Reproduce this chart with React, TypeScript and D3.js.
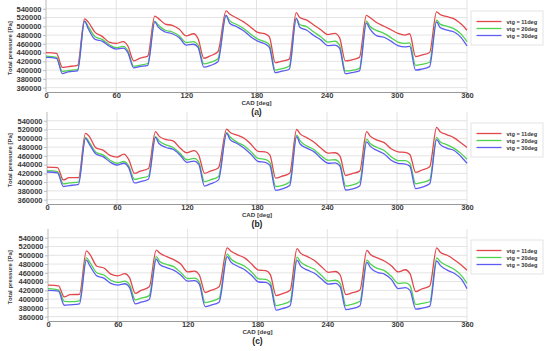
import React, { useEffect, useRef } from 'react';
import * as d3 from 'd3';

// crank angle sample points (same for every curve)
const cad = [0, 9, 14, 19, 27, 33, 36, 42, 48, 54, 60, 66, 70, 75, 80, 87, 93, 96, 102, 108, 114, 120, 126, 130, 135, 140, 147, 154, 157, 163, 169, 175, 181, 187, 191, 196, 201, 208, 214, 217, 223, 229, 235, 241, 247, 251, 256, 261, 268, 274, 277, 283, 289, 295, 301, 307, 311, 316, 321, 328, 334, 337, 343, 349, 355, 360];

// panel (a)
const redA = [440000, 438000, 406000, 408000, 411000, 517000, 510000, 486000, 477000, 464000, 461000, 465000, 455000, 421000, 427000, 432000, 523000, 518000, 505000, 502000, 493000, 478000, 483000, 472000, 427000, 432000, 442000, 535000, 528000, 519000, 510000, 498000, 486000, 483000, 476000, 417000, 420000, 425000, 531000, 520000, 514000, 503000, 492000, 481000, 484000, 474000, 421000, 423000, 429000, 525000, 520000, 508000, 500000, 492000, 484000, 480000, 483000, 431000, 434000, 440000, 533000, 527000, 522000, 517000, 505000, 491000];
const greenA = [432000, 429000, 397000, 399000, 401000, 512000, 500000, 476000, 470000, 458000, 451000, 454000, 444000, 409000, 411000, 415000, 512000, 503000, 491000, 487000, 478000, 463000, 465000, 457000, 414000, 417000, 426000, 525000, 513000, 504000, 495000, 482000, 471000, 465000, 458000, 400000, 403000, 409000, 518000, 504000, 499000, 487000, 476000, 464000, 466000, 457000, 398000, 399000, 404000, 512000, 500000, 490000, 484000, 474000, 464000, 461000, 462000, 411000, 413000, 418000, 514000, 505000, 500000, 494000, 482000, 465000];
const blueA = [429000, 427000, 392000, 396000, 398000, 512000, 495000, 470000, 466000, 455000, 448000, 450000, 440000, 405000, 408000, 411000, 510000, 498000, 487000, 483000, 474000, 457000, 459000, 452000, 407000, 410000, 419000, 525000, 507000, 499000, 490000, 476000, 466000, 460000, 452000, 394000, 397000, 402000, 518000, 498000, 491000, 479000, 469000, 456000, 457000, 450000, 392000, 394000, 398000, 507000, 494000, 478000, 475000, 466000, 456000, 453000, 454000, 400000, 402000, 408000, 510000, 497000, 491000, 487000, 474000, 455000];

// panel (b)
const redB = [434000, 433000, 405000, 410000, 410000, 511000, 505000, 478000, 473000, 461000, 457000, 464000, 452000, 420000, 425000, 431000, 515000, 505000, 497000, 494000, 478000, 467000, 472000, 462000, 420000, 425000, 433000, 521000, 513000, 507000, 500000, 486000, 470000, 469000, 462000, 409000, 413000, 420000, 520000, 510000, 501000, 491000, 477000, 466000, 467000, 460000, 415000, 419000, 425000, 515000, 505000, 496000, 490000, 476000, 469000, 468000, 463000, 422000, 427000, 435000, 525000, 515000, 508000, 501000, 489000, 479000];
const greenB = [426000, 424000, 396000, 398000, 400000, 502000, 492000, 468000, 462000, 450000, 443000, 447000, 437000, 406000, 409000, 414000, 504000, 494000, 485000, 479000, 466000, 451000, 454000, 446000, 401000, 405000, 413000, 513000, 503000, 491000, 483000, 469000, 454000, 452000, 445000, 390000, 392000, 400000, 507000, 494000, 482000, 474000, 460000, 450000, 451000, 443000, 391000, 393000, 401000, 498000, 488000, 479000, 472000, 458000, 449000, 449000, 443000, 396000, 399000, 405000, 502000, 492000, 485000, 477000, 465000, 452000];
const blueB = [423000, 421000, 390000, 392000, 395000, 500000, 488000, 464000, 458000, 446000, 439000, 443000, 433000, 398000, 401000, 407000, 502000, 488000, 479000, 475000, 462000, 445000, 448000, 441000, 391000, 396000, 405000, 511000, 497000, 488000, 477000, 463000, 447000, 445000, 438000, 381000, 384000, 392000, 504000, 487000, 477000, 469000, 454000, 443000, 444000, 437000, 382000, 384000, 391000, 492000, 482000, 472000, 464000, 450000, 443000, 441000, 436000, 385000, 388000, 396000, 497000, 486000, 477000, 472000, 458000, 443000];

// panel (c)
const redC = [432000, 430000, 405000, 410000, 411000, 510000, 502000, 475000, 471000, 457000, 453000, 458000, 449000, 413000, 420000, 428000, 512000, 505000, 497000, 490000, 480000, 462000, 464000, 455000, 415000, 420000, 428000, 517000, 510000, 501000, 494000, 480000, 466000, 465000, 456000, 408000, 412000, 420000, 515000, 505000, 497000, 488000, 474000, 461000, 463000, 455000, 410000, 414000, 421000, 511000, 502000, 494000, 487000, 476000, 462000, 467000, 458000, 417000, 423000, 430000, 517000, 507000, 500000, 490000, 478000, 466000];
const greenC = [424000, 421000, 395000, 394000, 396000, 494000, 484000, 460000, 455000, 443000, 438000, 441000, 433000, 398000, 402000, 408000, 497000, 486000, 479000, 474000, 461000, 447000, 448000, 440000, 392000, 395000, 402000, 503000, 492000, 482000, 475000, 462000, 446000, 445000, 438000, 385000, 388000, 395000, 496000, 485000, 475000, 468000, 454000, 441000, 443000, 436000, 385000, 388000, 395000, 489000, 480000, 470000, 465000, 452000, 436000, 437000, 431000, 388000, 390000, 394000, 494000, 486000, 476000, 468000, 454000, 436000];
const blueC = [420000, 418000, 386000, 387000, 389000, 489000, 476000, 453000, 448000, 436000, 432000, 435000, 427000, 389000, 393000, 399000, 491000, 479000, 472000, 466000, 455000, 441000, 442000, 434000, 383000, 386000, 393000, 497000, 485000, 475000, 467000, 454000, 439000, 438000, 431000, 375000, 378000, 385000, 489000, 476000, 466000, 459000, 446000, 434000, 436000, 428000, 376000, 378000, 385000, 484000, 472000, 461000, 457000, 445000, 424000, 426000, 420000, 377000, 379000, 384000, 487000, 477000, 466000, 459000, 446000, 424000];

const seriesNames = ['vtg = 11deg', 'vtg = 20deg', 'vtg = 30deg'];
const seriesColors = ['#e2474b', '#4ed34e', '#5c5cf2'];
const yTicks = [360000, 380000, 400000, 420000, 440000, 460000, 480000, 500000, 520000, 540000];
const xTicks = [0, 60, 120, 180, 240, 300, 360];
const panelTags = ['(a)', '(b)', '(c)'];

const panels = [
  { tag: panelTags[0], top: 0, bottom: 92, left: 46, right: 467, data: [redA, greenA, blueA] },
  { tag: panelTags[1], top: 112, bottom: 204, left: 47, right: 467, data: [redB, greenB, blueB] },
  { tag: panelTags[2], top: 229, bottom: 321, left: 48, right: 467, data: [redC, greenC, blueC] },
];

const FONT = 'Liberation Sans, Arial, sans-serif';

export default function App() {
  const ref = useRef<SVGSVGElement>(null);

  useEffect(() => {
    const svg = d3.select(ref.current);
    svg.selectAll('*').remove();
    svg.append('rect').attr('width', 550).attr('height', 351).attr('fill', '#fff');

    panels.forEach((p) => {
      const x = d3.scaleLinear().domain([0, 360]).range([p.left, p.right]);
      const y = d3.scaleLinear().domain([350000, 560000]).range([p.bottom, p.top]);
      const g = svg.append('g');

      // grid
      g.selectAll('.hgrid')
        .data(yTicks)
        .enter()
        .append('line')
        .attr('x1', p.left)
        .attr('x2', p.right)
        .attr('y1', (d) => y(d))
        .attr('y2', (d) => y(d))
        .attr('stroke', '#dcdcdc')
        .attr('stroke-width', 0.8);
      g.selectAll('.vgrid')
        .data(xTicks.slice(1))
        .enter()
        .append('line')
        .attr('x1', (d) => x(d))
        .attr('x2', (d) => x(d))
        .attr('y1', p.top)
        .attr('y2', p.bottom)
        .attr('stroke', '#dcdcdc')
        .attr('stroke-width', 0.8);

      // axes
      const yAxis = d3.axisLeft(y).tickValues(yTicks).tickSize(3).tickFormat(d3.format('d'));
      const ya = g.append('g').attr('transform', `translate(${p.left},0)`).call(yAxis);
      ya.select('.domain').attr('stroke', '#bbb').attr('d', `M0,${p.top}V${p.bottom}`);
      ya.selectAll('.tick line').attr('stroke', '#bbb');
      ya.selectAll('.tick text')
        .attr('x', -4.5)
        .attr('fill', '#3a3a3a')
        .style('font-family', FONT)
        .style('font-weight', 'bold')
        .style('font-size', '7.5px');

      const xAxis = d3.axisBottom(x).tickValues(xTicks).tickSize(0).tickFormat(d3.format('d'));
      const xa = g.append('g').attr('transform', `translate(0,${p.bottom})`).call(xAxis);
      xa.select('.domain').attr('stroke', '#999');
      xa.selectAll('.tick text')
        .attr('y', 0.8)
        .attr('fill', '#3a3a3a')
        .style('font-family', FONT)
        .style('font-weight', 'bold')
        .style('font-size', '7.5px');

      g.append('text')
        .attr('x', x(180))
        .attr('y', p.bottom + 12.8)
        .attr('text-anchor', 'middle')
        .attr('fill', '#3a3a3a')
        .style('font-family', FONT)
        .style('font-weight', 'bold')
        .style('font-size', '6.2px')
        .text('CAD [deg]');

      g.append('text')
        .attr('transform', `translate(12,${(y(540000) + y(360000)) / 2}) rotate(-90)`)
        .attr('text-anchor', 'middle')
        .attr('fill', '#3a3a3a')
        .style('font-family', FONT)
        .style('font-weight', 'bold')
        .style('font-size', '6px')
        .text('Total pressure [Pa]');

      g.append('text')
        .attr('x', x(180))
        .attr('y', p.bottom + 22.5)
        .attr('text-anchor', 'middle')
        .attr('fill', '#222')
        .style('font-family', FONT)
        .style('font-weight', 'bold')
        .style('font-size', '8.5px')
        .text(p.tag);

      // curves
      const line = d3
        .line<number>()
        .x((d, i) => x(cad[i]))
        .y((d) => y(d))
        .curve(d3.curveMonotoneX);
      p.data.forEach((vals, i) => {
        g.append('path')
          .attr('d', line(vals))
          .attr('fill', 'none')
          .attr('stroke', seriesColors[i])
          .attr('stroke-width', 1.3)
          .attr('stroke-linejoin', 'round');
      });

      // legend
      const lg = g.append('g').attr('transform', `translate(471,${p.top + 11})`);
      lg.append('rect')
        .attr('width', 72)
        .attr('height', 34)
        .attr('fill', '#fff')
        .attr('stroke', '#ddd')
        .attr('stroke-width', 0.8);
      seriesNames.forEach((name, i) => {
        const ly = 10.5 + i * 7;
        lg.append('line')
          .attr('x1', 5.5)
          .attr('x2', 30.5)
          .attr('y1', ly)
          .attr('y2', ly)
          .attr('stroke', seriesColors[i])
          .attr('stroke-width', 1.3);
        lg.append('text')
          .attr('x', 35.5)
          .attr('y', ly + 2)
          .attr('fill', '#333')
          .style('font-family', FONT)
          .style('font-weight', 'bold')
          .style('font-size', '5.6px')
          .text(name);
      });
    });
  }, []);

  return (
    <svg
      ref={ref}
      width={550}
      height={351}
      style={{ position: 'absolute', left: 0, top: 0 }}
    />
  );
}
